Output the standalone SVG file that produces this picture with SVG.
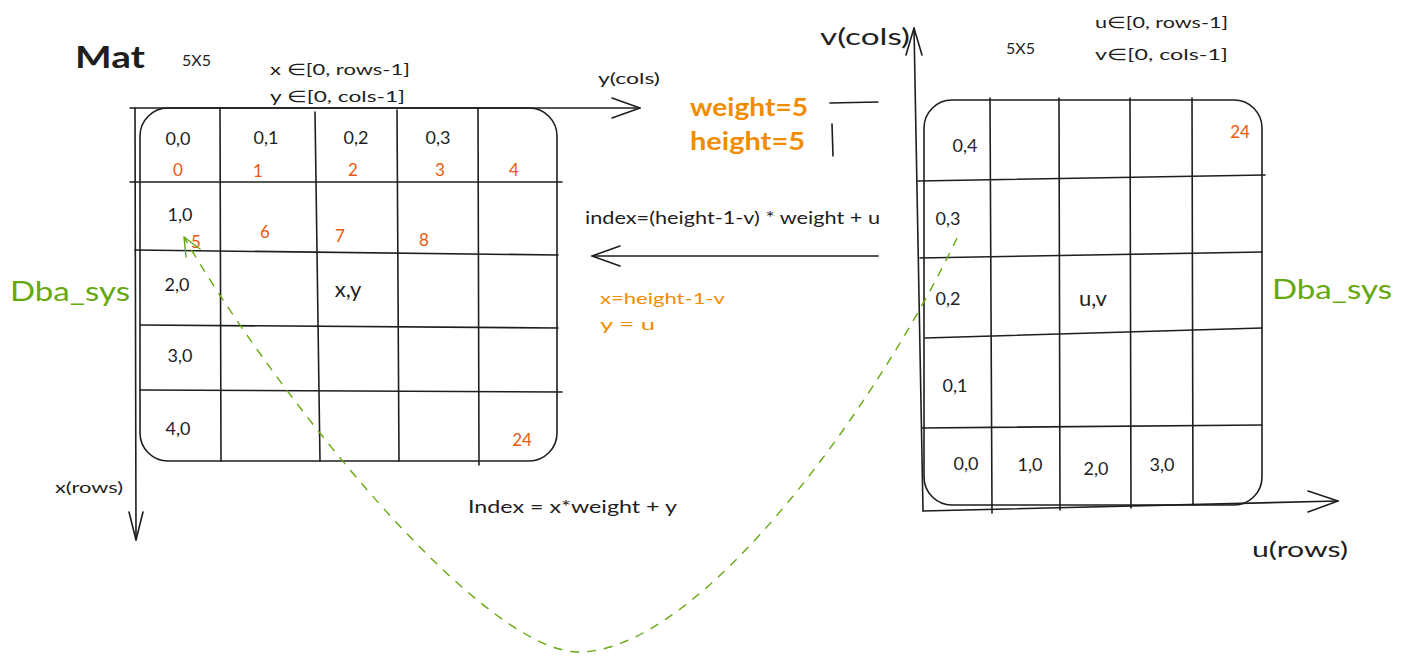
<svg xmlns="http://www.w3.org/2000/svg" width="1402" height="662" viewBox="0 0 1402 662">
<style>
text{font-family:"Lato","Noto Sans","Liberation Sans",sans-serif;fill:#1e1e1e}
.s{font-size:18px}
.r{fill:#e8590c;font-size:17px}
.o{fill:#f08c00}
.g{fill:#66a80f;font-size:27px}
.ln{stroke:#1e1e1e;stroke-width:1.6;fill:none;stroke-linecap:round;stroke-linejoin:round}
.mid{text-anchor:middle}
</style>
<rect width="1402" height="662" fill="#ffffff"/>

<g id="left-matrix">
  <rect class="ln" x="140" y="108" width="417" height="353" rx="28"/>
  <line class="ln" x1="130" y1="182" x2="562" y2="182"/>
  <line class="ln" x1="135" y1="250" x2="558" y2="255"/>
  <line class="ln" x1="140" y1="325" x2="558" y2="328"/>
  <line class="ln" x1="140" y1="390" x2="562" y2="392"/>
  <line class="ln" x1="220" y1="108" x2="221" y2="461"/>
  <line class="ln" x1="315" y1="112" x2="320" y2="461"/>
  <line class="ln" x1="397" y1="110" x2="399" y2="461"/>
  <line class="ln" x1="478" y1="108" x2="479" y2="465"/>
  <text class="s mid" x="178" y="145">0,0</text>
  <text class="s mid" x="266" y="144">0,1</text>
  <text class="s mid" x="356" y="144">0,2</text>
  <text class="s mid" x="438" y="144">0,3</text>
  <text class="r mid" x="178" y="176">0</text>
  <text class="r mid" x="258" y="177">1</text>
  <text class="r mid" x="353" y="176">2</text>
  <text class="r mid" x="440" y="176">3</text>
  <text class="r mid" x="514" y="176">4</text>
  <text class="s mid" x="180" y="221">1,0</text>
  <text class="r mid" x="196" y="248">5</text>
  <text class="r mid" x="265" y="238">6</text>
  <text class="r mid" x="340" y="242">7</text>
  <text class="r mid" x="424" y="246">8</text>
  <text class="s mid" x="177" y="291">2,0</text>
  <text class="mid" x="348" y="297" font-size="22">x,y</text>
  <text class="s mid" x="180" y="362">3,0</text>
  <text class="s mid" x="178" y="435">4,0</text>
  <text class="r mid" x="522" y="446">24</text>
</g>

<g id="left-axes">
  <line class="ln" x1="130" y1="108" x2="640" y2="108"/>
  <polyline class="ln" points="612,98 640,108 612,118"/>
  <line class="ln" x1="135" y1="108" x2="136" y2="540"/>
  <polyline class="ln" points="129,512 136,540 143,512"/>
  <text x="598" y="84" font-size="16" textLength="62" lengthAdjust="spacingAndGlyphs">y(cols)</text>
  <text x="55" y="493" font-size="16" textLength="68" lengthAdjust="spacingAndGlyphs">x(rows)</text>
</g>

<g id="left-title">
  <text x="75" y="68" font-size="30" font-weight="bold" textLength="70" lengthAdjust="spacingAndGlyphs">Mat</text>
  <text x="182" y="66" font-size="16">5X5</text>
  <text x="270" y="75" font-size="16" textLength="140" lengthAdjust="spacingAndGlyphs">x ∈[0, rows-1]</text>
  <text x="270" y="102" font-size="16" textLength="135" lengthAdjust="spacingAndGlyphs">y ∈[0, cols-1]</text>
  <text class="g" x="10" y="301" textLength="120" lengthAdjust="spacingAndGlyphs">Dba_sys</text>
</g>

<g id="middle">
  <text class="o" x="690" y="116" font-size="25" font-weight="bold" textLength="118" lengthAdjust="spacingAndGlyphs">weight=5</text>
  <text class="o" x="690" y="150" font-size="25" font-weight="bold" textLength="115" lengthAdjust="spacingAndGlyphs">height=5</text>
  <line class="ln" x1="830" y1="103" x2="878" y2="102"/>
  <line class="ln" x1="832" y1="124" x2="833" y2="156"/>
  <text x="585" y="224" font-size="17" textLength="295" lengthAdjust="spacingAndGlyphs">index=(height-1-v) * weight + u</text>
  <text class="o" x="600" y="304" font-size="16" textLength="125" lengthAdjust="spacingAndGlyphs">x=height-1-v</text>
  <text class="o" x="600" y="330" font-size="16" textLength="55" lengthAdjust="spacingAndGlyphs">y = u</text>
  <text x="468" y="513" font-size="17" textLength="209" lengthAdjust="spacingAndGlyphs">Index = x*weight + y</text>
</g>

<g id="right-matrix">
  <rect class="ln" x="924" y="100" width="338" height="405" rx="28"/>
  <line class="ln" x1="990" y1="98" x2="992" y2="513"/>
  <line class="ln" x1="1059" y1="98" x2="1060" y2="510"/>
  <line class="ln" x1="1130" y1="98" x2="1131" y2="508"/>
  <line class="ln" x1="1192" y1="98" x2="1193" y2="505"/>
  <line class="ln" x1="918" y1="181" x2="1265" y2="175"/>
  <line class="ln" x1="920" y1="258" x2="1262" y2="252"/>
  <line class="ln" x1="925" y1="338" x2="1262" y2="328"/>
  <line class="ln" x1="922" y1="428" x2="1262" y2="425"/>
  <text class="s mid" x="965" y="152">0,4</text>
  <text class="r mid" x="1240" y="138" font-size="15">24</text>
  <text class="s mid" x="948" y="225">0,3</text>
  <text class="s mid" x="948" y="305">0,2</text>
  <text class="mid" x="1093" y="306" font-size="22">u,v</text>
  <text class="s mid" x="955" y="392">0,1</text>
  <text class="s mid" x="966" y="470">0,0</text>
  <text class="s mid" x="1030" y="471">1,0</text>
  <text class="s mid" x="1096" y="475">2,0</text>
  <text class="s mid" x="1162" y="471">3,0</text>
</g>

<g id="right-axes">
  <line class="ln" x1="923" y1="511" x2="914" y2="28"/>
  <polyline class="ln" points="906,55 914,28 922,55"/>
  <line class="ln" x1="923" y1="511" x2="1338" y2="501"/>
  <polyline class="ln" points="1308,491 1338,501 1308,512"/>
  <text x="820" y="45" font-size="24" textLength="90" lengthAdjust="spacingAndGlyphs">v(cols)</text>
  <text x="1252" y="557" font-size="21" textLength="96" lengthAdjust="spacingAndGlyphs">u(rows)</text>
</g>

<g id="right-title">
  <text x="1006" y="54" font-size="16">5X5</text>
  <text x="1095" y="28" font-size="16" textLength="133" lengthAdjust="spacingAndGlyphs">u∈[0, rows-1]</text>
  <text x="1095" y="60" font-size="16" textLength="133" lengthAdjust="spacingAndGlyphs">v∈[0, cols-1]</text>
  <text class="g" x="1272" y="299" textLength="120" lengthAdjust="spacingAndGlyphs">Dba_sys</text>
</g>

<g id="connectors">
  <line class="ln" x1="878" y1="256" x2="592" y2="256"/>
  <polyline class="ln" points="620,246 592,256 620,266"/>
  <path d="M 957 238 C 880 400, 700 655, 576 652 C 470 645, 260 370, 184 237" fill="none" stroke="#66a80f" stroke-width="1.4" stroke-dasharray="9 8"/>
  <polyline points="186,257 184,237 200,249" fill="none" stroke="#66a80f" stroke-width="1.4" stroke-linecap="round" stroke-linejoin="round"/>
</g>
</svg>
